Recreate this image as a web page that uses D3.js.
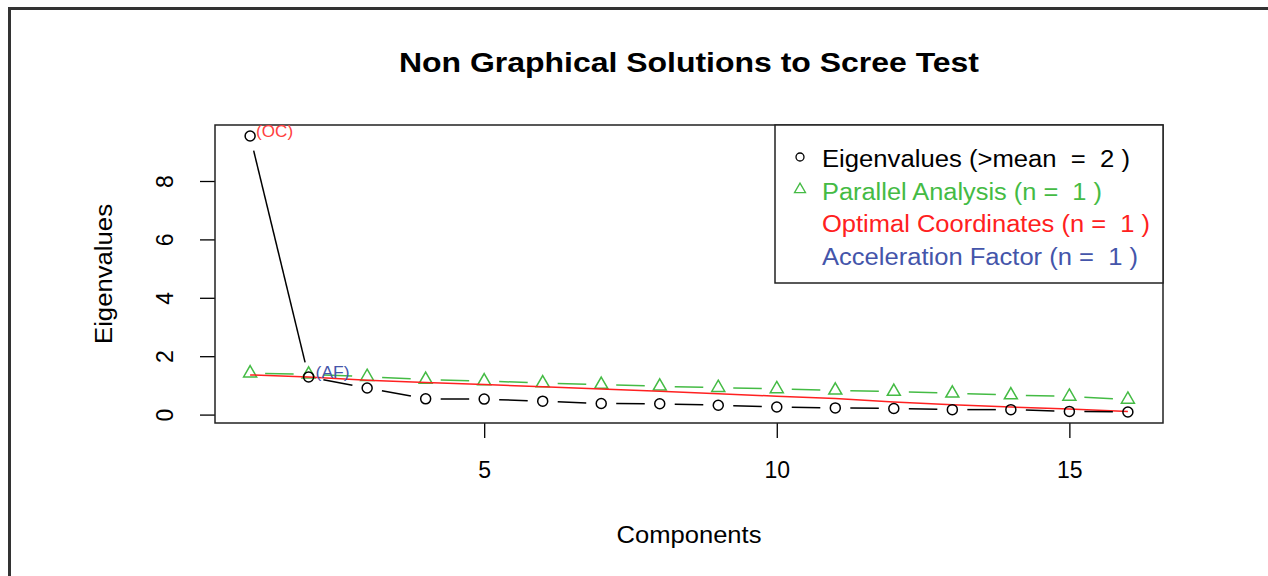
<!DOCTYPE html>
<html><head><meta charset="utf-8">
<script src="https://cdn.jsdelivr.net/npm/d3@7"></script>
<style>
html,body{margin:0;padding:0;background:#fff;}
svg text{font-family:"Liberation Sans",Arial,sans-serif;white-space:pre;}
</style></head>
<body><svg id="c" width="1268" height="576"></svg>
<script>
const components = [1,2,3,4,5,6,7,8,9,10,11,12,13,14,15,16];
const eigenvalues = [9.54,1.29,0.91,0.54,0.53,0.46,0.38,0.37,0.32,0.26,0.23,0.21,0.17,0.17,0.11,0.09];
const parallel = [1.42,1.38,1.30,1.20,1.15,1.08,1.03,0.97,0.92,0.88,0.83,0.79,0.73,0.67,0.62,0.52];
const optimalCoord = [1.36,1.29,1.18,1.10,1.03,0.95,0.88,0.80,0.71,0.63,0.55,0.43,0.34,0.26,0.19,0.11];
const xTicks = [5,10,15];
const yTicks = [0,2,4,6,8];
const legendLabels = ["Eigenvalues (>mean  =  2 )","Parallel Analysis (n =  1 )","Optimal Coordinates (n =  1 )","Acceleration Factor (n =  1 )"];
const legendColors = ["#000000","#44BB44","#FF2020","#4455AA"];
const titleText = "Non Graphical Solutions to Scree Test";

const svg = d3.select("#c");
const L=215, R=1163, T=125, B=423;
const all = eigenvalues.concat(parallel, optimalCoord);
const ymin = d3.min(all), ymax = d3.max(all);
const ext = 0.04*(ymax-ymin);
const x = d3.scaleLinear().domain([0.4,16.6]).range([L,R]);
const y = d3.scaleLinear().domain([ymin-ext, ymax+ext]).range([B,T]);
const FONT = "Liberation Sans, Arial, sans-serif";

// outer frame
svg.append("path").attr("d","M9.5,580 L9.5,8.5 L1275,8.5").attr("fill","none").attr("stroke","#333").attr("stroke-width",3);

// title
svg.append("text").attr("x",(L+R)/2).attr("y",72).attr("text-anchor","middle")
  .attr("font-size",28).attr("font-weight","bold")
  .attr("textLength",580).attr("lengthAdjust","spacingAndGlyphs").text(titleText);

// axes
const xa = svg.append("g").attr("transform",`translate(0,${B})`)
  .call(d3.axisBottom(x).tickValues(xTicks).tickSize(15).tickPadding(24).tickFormat(d3.format("d")));
xa.select(".domain").remove();
xa.selectAll("line").attr("stroke","#000").attr("stroke-width",1.3);
xa.selectAll("text").attr("font-size",23).attr("fill","#000").attr("font-family",FONT);

const ya = svg.append("g").attr("transform",`translate(${L},0)`)
  .call(d3.axisLeft(y).tickValues(yTicks).tickSize(15).tickFormat(d3.format("d")));
ya.select(".domain").remove();
ya.selectAll("line").attr("stroke","#000").attr("stroke-width",1.3);
ya.selectAll("text").remove();
ya.selectAll(".tick").append("text").attr("transform","translate(-50,0) rotate(-90)")
  .attr("text-anchor","middle").attr("dy","0.35em").attr("font-size",23).attr("fill","#000")
  .attr("font-family",FONT)
  .text(d=>d);

// box
svg.append("rect").attr("x",L).attr("y",T).attr("width",R-L).attr("height",B-T)
  .attr("fill","none").attr("stroke","#222").attr("stroke-width",1.5);

// axis titles
svg.append("text").attr("x",(L+R)/2).attr("y",543).attr("text-anchor","middle").attr("font-size",23)
  .attr("textLength",145).attr("lengthAdjust","spacingAndGlyphs").text("Components");
svg.append("text").attr("transform",`translate(112,${(T+B)/2}) rotate(-90)`).attr("text-anchor","middle").attr("font-size",23)
  .attr("textLength",140).attr("lengthAdjust","spacingAndGlyphs").text("Eigenvalues");

// type="b" lines with gaps
function gapLines(vals, color){
  const g = 15;
  const pts = components.map((c,i)=>[x(c), y(vals[i])]);
  for(let i=0;i<pts.length-1;i++){
    const [x1,y1]=pts[i],[x2,y2]=pts[i+1];
    const dx=x2-x1, dy=y2-y1, len=Math.hypot(dx,dy);
    if(len<=2*g) continue;
    const ux=dx/len, uy=dy/len;
    svg.append("line").attr("x1",x1+ux*g).attr("y1",y1+uy*g).attr("x2",x2-ux*g).attr("y2",y2-uy*g)
      .attr("stroke",color).attr("stroke-width",1.5);
  }
}
function triPath(cx,cy,xc){
  const r = xc*1.5551/1.3468, yc = r/2;
  return `M${cx},${cy-r} L${cx+xc},${cy+yc} L${cx-xc},${cy+yc} Z`;
}

// parallel analysis
gapLines(parallel, "#44BB44");
svg.append("g").selectAll("path").data(components).join("path")
  .attr("d",(c,i)=>triPath(x(c), y(parallel[i]), 6.5))
  .attr("fill","none").attr("stroke","#44BB44").attr("stroke-width",1.5);

// optimal coordinates
svg.append("path").datum(components)
  .attr("d", d3.line().x(c=>x(c)).y((c,i)=>y(optimalCoord[i])))
  .attr("fill","none").attr("stroke","#FF2020").attr("stroke-width",1.5);

// eigenvalues
gapLines(eigenvalues, "#000");
svg.append("g").selectAll("circle").data(components).join("circle")
  .attr("cx",c=>x(c)).attr("cy",(c,i)=>y(eigenvalues[i])).attr("r",5)
  .attr("fill","none").attr("stroke","#000").attr("stroke-width",1.5);

// annotations
svg.append("text").attr("x",x(1)+6).attr("y",y(eigenvalues[0])-5).attr("dy","0.35em").attr("font-size",16).attr("fill","#FF4040")
  .attr("textLength",37).attr("lengthAdjust","spacingAndGlyphs").text("(OC)");
svg.append("text").attr("x",x(2)+7).attr("y",y(eigenvalues[1])-5).attr("dy","0.35em").attr("font-size",16).attr("fill","#4455AA")
  .attr("textLength",34).attr("lengthAdjust","spacingAndGlyphs").text("(AF)");

// legend
const legendLens = [308,280,328,316];
const lg = svg.append("g");
lg.append("rect").attr("x",775).attr("y",T).attr("width",R-775).attr("height",158)
  .attr("fill","#fff").attr("stroke","#222").attr("stroke-width",1.5);
const rowY = d=>159+d*32.5;
legendLabels.forEach((t,i)=>{
  lg.append("text").attr("x",822).attr("y",rowY(i)).attr("dy","0.35em").attr("font-size",23)
    .attr("textLength",legendLens[i]).attr("lengthAdjust","spacingAndGlyphs")
    .attr("fill",legendColors[i]).text(t);
});
lg.append("circle").attr("cx",800).attr("cy",rowY(0)-2).attr("r",4).attr("fill","none").attr("stroke","#000").attr("stroke-width",1.3);
lg.append("path").attr("d",triPath(800,rowY(1)-2,5.5)).attr("fill","none").attr("stroke","#44BB44").attr("stroke-width",1.3);
</script></body></html>
